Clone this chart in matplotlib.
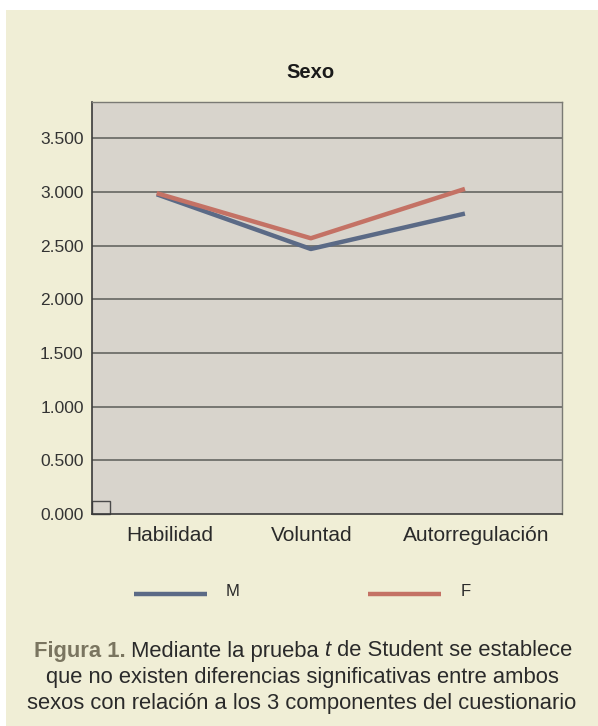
import matplotlib
matplotlib.use("Agg")
import matplotlib.pyplot as plt
from matplotlib.patches import Rectangle
from matplotlib.lines import Line2D

categories = ["Habilidad", "Voluntad", "Autorregulación"]
series_names = ["M", "F"]
values_M = [2.98, 2.47, 2.80]
values_F = [2.99, 2.57, 3.03]
yticks = [0.0, 0.5, 1.0, 1.5, 2.0, 2.5, 3.0, 3.5]
ytick_labels = ["0.000", "0.500", "1.000", "1.500", "2.000", "2.500", "3.000", "3.500"]

plt.rcParams['font.family'] = ['Liberation Sans', 'DejaVu Sans']

W, H = 598, 726
fig = plt.figure(figsize=(W / 100, H / 100), dpi=100)
fig.patch.set_facecolor("white")

def fx(px):
    return px / W

def fy(py):
    return 1 - py / H

# beige panel
fig.patches.append(Rectangle((fx(6), 0), 1 - fx(6), fy(10), transform=fig.transFigure,
                             facecolor="#f0eed6", edgecolor="none", zorder=-5))

left, right, top, bottom = 92, 562, 102, 514
ax = fig.add_axes([fx(left), fy(bottom), fx(right) - fx(left), fy(top) - fy(bottom)])
ax.set_zorder(2)
ax.set_facecolor("#d8d4cc")
ax.set_xlim(-0.42, 2.63)
ax.set_ylim(0, 3.84)
for s in ["top", "right"]:
    ax.spines[s].set_color("#7a7a74")
    ax.spines[s].set_linewidth(1.0)
for s in ["left", "bottom"]:
    ax.spines[s].set_color("#3a3a3a")
    ax.spines[s].set_linewidth(1.2)
ax.set_yticks(yticks)
ax.set_yticklabels(ytick_labels, fontsize=12.5, color="#333333")
ax.tick_params(axis="y", length=0, pad=6)
ax.set_xticks([])
for y in yticks[1:]:
    ax.axhline(y, color="#5c5c58", lw=1.1, zorder=1)

xs = list(range(len(categories)))
ax.plot(xs, values_M, color="#5b6a86", lw=3.2, zorder=3, solid_capstyle="butt")
ax.plot(xs, values_F, color="#c47265", lw=3.2, zorder=4, solid_capstyle="butt")

# small artifact box at the bottom-left corner
ax.add_patch(Rectangle((-0.42, 0), 0.117, 0.12, facecolor="none", edgecolor="#4a4a4a",
                       lw=1.0, zorder=2, clip_on=False))

label_offsets = [0.084, 0.005, 0.07]
for i, (c, o) in enumerate(zip(categories, label_offsets)):
    ax.text(i + o, -0.20, c, ha="center", va="center", fontsize=15, color="#2a2a2a")

fig.text(fx(310), fy(73), "Sexo", ha="center", va="center", fontsize=14.5, fontweight="bold",
         color="#1a1a1a")

# legend
colors = {"M": "#5b6a86", "F": "#c47265"}
leg_pos = {"M": (134, 207, 233), "F": (368, 441, 466)}
for name in series_names:
    x0, x1, xl = leg_pos[name]
    fig.add_artist(Line2D([fx(x0), fx(x1)], [fy(594), fy(594)], transform=fig.transFigure,
                          color=colors[name], lw=3.2, solid_capstyle="butt"))
    fig.text(fx(xl), fy(592), name, ha="center", va="center", fontsize=12, color="#2a2a2a")

# caption
cap_color = "#2a2a2a"
fs = 15.8
line1_parts = [("Figura 1.", dict(fontweight="bold", color="#7a7560")),
               (" Mediante la prueba ", dict(color=cap_color)),
               ("t", dict(style="italic", color=cap_color)),
               (" de Student se establece", dict(color=cap_color))]
fig.canvas.draw()
renderer = fig.canvas.get_renderer()
texts = []
widths = []
for s, kw in line1_parts:
    t = fig.text(0, fy(651), s, ha="left", va="center", fontsize=fs, **kw)
    bb = t.get_window_extent(renderer=renderer)
    texts.append(t)
    widths.append(bb.width)
total = sum(widths)
x = 303 - total / 2
for t, w in zip(texts, widths):
    t.set_x(x / W)
    x += w
fig.text(fx(302), fy(677), "que no existen diferencias significativas entre ambos",
         ha="center", va="center", fontsize=fs, color=cap_color)
fig.text(fx(302), fy(703), "sexos con relación a los 3 componentes del cuestionario",
         ha="center", va="center", fontsize=fs, color=cap_color)

fig.savefig("out.png", dpi=100, facecolor=fig.get_facecolor())
